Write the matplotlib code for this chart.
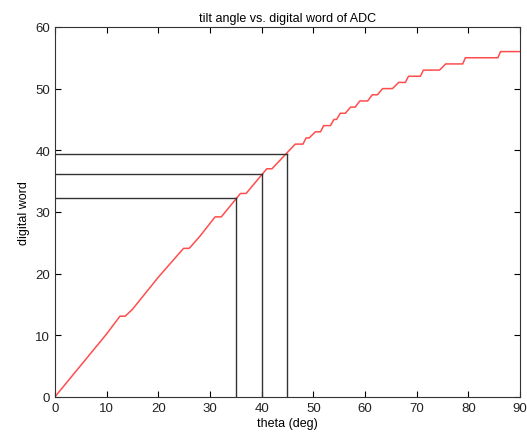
import matplotlib
matplotlib.use("Agg")
import matplotlib.pyplot as plt

# staircase curve (theta in deg, ADC word)
theta = [0, 5.0, 10.0, 12.6, 13.6, 15.0, 20.0, 24.9, 26.0, 28.0, 31.0, 32.2, 35.9, 37.0,
         41.0, 42.0, 46.5, 48.0, 48.6, 49.2, 50.4, 51.4, 52.0, 53.3, 54.0, 54.5,
         55.2, 56.2, 57.2, 58.1, 59.0, 60.5, 61.4, 62.4, 63.4, 65.3, 66.5, 67.8,
         68.4, 70.7, 71.3, 74.4, 75.6, 78.9, 79.4, 85.7, 86.2, 90.0]
word = [0, 5.1, 10.2, 13.1, 13.1, 14.2, 19.4, 24.1, 24.1, 26.0, 29.2, 29.2, 33, 33,
        37, 37, 41, 41, 42, 42, 43, 43, 44, 44, 45, 45,
        46, 46, 47, 47, 48, 48, 49, 49, 50, 50, 51, 51,
        52, 52, 53, 53, 54, 54, 55, 55, 56, 56]

# marked angles and their words
mark_theta = [35, 40, 45]
mark_word = [32.3, 36.1, 39.4]

plt.rcParams['font.family'] = ['Liberation Sans', 'DejaVu Sans']

fig = plt.figure(figsize=(5.27, 4.39), dpi=100)
ax = fig.add_axes([0.104, 0.0934, 0.883, 0.843])

ax.plot(theta, word, color='#ff4d4d', lw=1.1)
for t, w in zip(mark_theta, mark_word):
    ax.plot([0, t], [w, w], color='#333333', lw=1.0)
    ax.plot([t, t], [0, w], color='#333333', lw=1.0)

ax.set_xlim(0, 90)
ax.set_ylim(0, 60)
ax.set_xticks(range(0, 91, 10))
ax.set_yticks(range(0, 61, 10))
ax.tick_params(direction='in', top=True, right=True, labelsize=9.5, length=4, width=0.8,
               labelcolor='#222222')
for s in ax.spines.values():
    s.set_linewidth(0.8)
    s.set_color('#333333')

ax.set_title('tilt angle vs. digital word of ADC', fontsize=9, pad=4)
ax.set_xlabel('theta (deg)', fontsize=9, labelpad=2)
ax.set_ylabel('digital word', fontsize=9, labelpad=4)

plt.savefig('out.png')
